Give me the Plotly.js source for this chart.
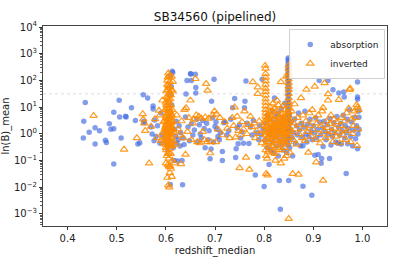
<!DOCTYPE html>
<html><head><meta charset="utf-8">
<script src="https://cdn.plot.ly/plotly-3.0.1.min.js"></script>
<style>html,body{margin:0;padding:0;background:#fff}#chart{width:399px;height:266px}</style>
</head><body><div id="chart"></div>
<script>
// [redshift_median, ln(B)_mean]
const absorption = [
[0.433,3.0],[0.436,15],[0.432,0.7],[0.444,1.15],[0.456,1.7],[0.456,0.42],[0.465,1.3],[0.477,0.58],[0.479,0.48],[0.485,2.4],[0.488,1.5],[0.494,1.55],[0.494,6.5],[0.494,0.075],[0.505,18],[0.506,4.3],[0.509,0.7],[0.518,4.6],[0.519,4.3],[0.530,9.5],[0.538,3.2],[0.543,0.42],[0.547,0.47],[0.554,29],[0.555,3.0],[0.556,2.6],[0.563,22],[0.570,1.8],[0.572,1.0],[0.574,11],[0.574,8.5],[0.576,0.55],[0.577,3.3],[0.580,0.8],[0.583,2.0],[0.590,6],[0.592,0.9],[0.588,0.45],
[0.598,0.7],[0.600,1.2],[0.602,0.4],[0.604,0.25],[0.606,2.5],[0.607,0.9],[0.609,150],[0.611,60],[0.613,220],[0.614,200],[0.610,30],[0.612,12],[0.608,5],[0.609,0.0126],[0.612,0.5],[0.615,0.3],[0.617,0.1],[0.618,1.5],[0.620,0.8],[0.621,3],[0.622,0.45],[0.624,0.097],[0.625,0.6],[0.627,2],[0.629,0.35],[0.630,1.1],[0.633,0.1],[0.634,0.0125],[0.635,0.7],[0.637,0.4],[0.640,4.3],[0.641,31],[0.643,100],[0.645,1.8],[0.648,0.55],[0.650,180],[0.651,175],[0.652,100],[0.652,2.4],[0.655,0.9],[0.658,1.4],[0.660,170],[0.661,54],[0.661,34],[0.663,3.5],[0.665,0.5],[0.668,2.2],[0.670,1.0],
[0.672,0.7],[0.675,3.2],[0.678,1.6],[0.680,0.3],[0.683,2.5],[0.686,0.6],[0.688,1.3],[0.690,0.117],[0.692,0.27],[0.693,16.6],[0.695,4],[0.697,0.5],[0.698,110],[0.700,1.9],[0.702,2.8],[0.704,1.5],[0.706,0.8],[0.709,0.6],[0.711,1.1],[0.715,0.1],[0.715,0.22],[0.718,2.6],[0.720,2.8],[0.724,0.9],[0.728,1.3],[0.732,3.5],[0.736,9.5],[0.740,21],[0.742,0.13],[0.743,0.28],[0.745,1.7],[0.747,0.43],[0.750,2.2],[0.752,0.7],[0.755,1.2],[0.758,0.45],[0.760,9.5],[0.761,16.5],[0.763,95],[0.765,2.5],[0.769,0.44],[0.772,1.8],[0.775,0.9],[0.778,3.2],[0.782,0.029],[0.785,1.1],[0.787,0.135],[0.789,0.6],[0.791,2],[0.794,0.9],[0.796,110],[0.798,1.5],
[0.800,0.0107],[0.802,0.6],[0.804,2.5],[0.806,0.3],[0.807,5],[0.808,1.2],[0.810,0.072],[0.811,0.9],[0.812,3.5],[0.813,0.25],[0.815,1.8],[0.816,0.5],[0.817,7],[0.818,1.1],[0.819,0.2],[0.820,2.8],[0.821,22],[0.822,0.7],[0.823,4.5],[0.824,1.5],[0.825,0.35],[0.826,2.2],[0.827,0.9],[0.828,6],[0.829,0.15],[0.830,1.3],[0.831,0.018],[0.832,3],[0.833,0.0015],[0.833,0.6],[0.834,1.9],[0.835,9],[0.836,0.4],[0.837,1.1],[0.838,4],[0.839,0.25],[0.840,2.5],[0.841,0.8],[0.842,14],[0.843,1.6],[0.844,0.5],[0.845,3.2],[0.846,0.2],[0.847,1.2],
[0.849,700],[0.849,600],[0.849,480],[0.849,380],[0.849,300],[0.849,240],[0.849,190],[0.849,150],[0.849,120],[0.849,95],[0.849,75],[0.849,58],[0.849,45],[0.849,35],[0.849,27],[0.849,20],[0.849,15],[0.849,11],[0.849,8],[0.849,6],[0.849,4.5],[0.849,3.3],[0.849,2.4],[0.849,1.7],[0.849,1.2],[0.849,0.85],[0.849,0.6],[0.849,0.4],[0.850,0.018],[0.851,5],[0.852,0.3],[0.853,1.5],
[0.855,2.8],[0.857,0.7],[0.858,0.15],[0.860,1.1],[0.862,3.6],[0.864,0.45],[0.866,2],[0.868,0.9],[0.870,6],[0.872,1.4],[0.874,0.35],[0.876,2.5],[0.878,0.75],[0.879,0.011],[0.879,0.36],[0.881,1.8],[0.883,7],[0.885,1],[0.887,0.5],[0.889,2.3],[0.891,0.8],[0.893,3.5],[0.895,1.3],[0.897,0.005],[0.898,0.6],[0.900,2],[0.902,1.1],[0.903,0.16],[0.905,4],[0.907,0.7],[0.909,1.5],[0.910,0.17],[0.912,100],[0.913,2.8],[0.915,0.9],[0.916,0.08],[0.917,0.12],[0.919,1.7],[0.920,0.34],[0.922,3],[0.924,1.2],[0.926,0.6],[0.928,2.2],[0.930,100],[0.931,1],[0.933,0.12],[0.934,3.8],[0.936,0.38],[0.937,1.5],[0.939,0.8],[0.940,45],[0.942,2.6],[0.944,1.1],[0.946,0.5],[0.948,4.5],[0.950,0.45],[0.951,1.8],[0.952,34],[0.954,0.9],[0.956,2.5],[0.957,0.42],[0.959,1.3],[0.961,5],[0.962,37],[0.963,24],[0.964,0.7],[0.965,2],[0.967,0.033],[0.968,1.1],[0.969,3.5],[0.970,0.43],[0.972,1.6],[0.974,8],[0.976,0.8],[0.978,2.8],[0.980,0.35],[0.982,1.4],[0.984,4.2],[0.986,0.65],[0.988,2],[0.990,87],[0.990,24],[0.990,20],[0.991,400],[0.991,310],[0.991,1],[0.992,7],[0.993,4.2],[0.993,1.5],[0.990,0.28]
];
const inverted = [
[0.453,4.8],[0.515,0.26],[0.541,0.7],[0.553,5.6],[0.554,3.5],[0.556,2.5],[0.558,1.3],[0.566,0.08],[0.570,1.9],[0.578,3.6],[0.583,0.7],[0.586,7.5],[0.588,5],[0.590,0.55],[0.593,18],[0.594,1.1],[0.595,2.8],[0.596,0.45],
[0.598,0.6],[0.598,3],[0.599,1.2],[0.599,8],[0.600,0.3],[0.600,2],[0.600,15],[0.601,0.8],[0.601,5],[0.601,40],[0.602,0.15],[0.602,1.5],[0.602,25],[0.603,0.5],[0.603,3.5],[0.603,11],[0.603,70],[0.604,0.07],[0.604,1],[0.604,6],[0.604,130],[0.605,0.4],[0.605,2.5],[0.605,18],[0.605,185],[0.606,0.2],[0.606,1.8],[0.606,9],[0.606,55],[0.607,0.01],[0.607,0.6],[0.607,4],[0.607,30],[0.607,150],[0.608,0.035],[0.608,1.3],[0.608,7],[0.608,90],[0.609,0.9],[0.609,3],[0.609,20],[0.610,0.05],[0.610,0.35],[0.610,2.2],[0.610,12],[0.611,1.1],[0.611,5],[0.611,45],[0.612,0.025],[0.612,0.7],[0.612,2.8],[0.612,140],[0.613,0.1],[0.613,1.6],[0.613,8],[0.614,90],[0.614,40],[0.614,0.5],[0.615,3],[0.616,1.2],[0.603,0.023],[0.605,0.012],[0.606,0.06],[0.608,0.45],[0.601,0.25],[0.604,0.18],[0.602,2.6],[0.606,4.5],[0.609,1.7],[0.611,0.8],[0.600,0.9],[0.603,1.6],[0.605,0.9],[0.607,2],[0.609,6],[0.599,1.8],[0.606,14],[0.604,22],[0.602,9],[0.608,35],[0.605,65],[0.603,100],[0.610,4],[0.612,1.4],[0.601,0.45],[0.606,0.12],[0.604,0.55],[0.608,0.28],[0.610,0.18],[0.600,0.08],[0.609,0.06],
[0.598,1.5],[0.599,0.4],[0.600,4],[0.601,2.2],[0.602,0.7],[0.603,6],[0.604,3],[0.605,1.3],[0.606,0.35],[0.607,9],[0.608,2.5],[0.609,0.5],[0.610,1.5],[0.611,2.6],[0.612,5],[0.613,0.35],[0.601,12],[0.604,45],[0.607,60],[0.610,28],
[0.618,0.08],[0.620,0.4],[0.622,5],[0.625,1.5],[0.628,0.9],[0.631,0.075],[0.632,3],[0.635,0.7],[0.638,8],[0.640,0.17],[0.641,9.3],[0.644,1.2],[0.647,4],[0.650,18],[0.652,0.6],[0.655,2.5],[0.657,3.5],[0.660,115],[0.662,5],[0.664,0.5],[0.667,4.5],[0.669,0.45],[0.672,3.8],[0.675,1.2],[0.678,0.6],[0.680,4.2],[0.682,75],[0.684,0.5],[0.685,42],[0.687,3.8],[0.690,0.19],[0.692,0.5],[0.695,5],[0.699,7],[0.702,0.5],[0.703,5.5],[0.706,1.5],[0.710,4],[0.715,0.9],[0.720,2.8],[0.725,1.6],[0.730,0.7],[0.735,4],[0.738,2],[0.740,10],[0.742,0.75],[0.745,4.5],[0.748,1.3],[0.750,0.053],[0.752,0.9],[0.755,2.8],[0.758,1.5],[0.760,7],[0.763,0.13],[0.765,1],[0.768,2.2],[0.770,0.046],[0.772,4.5],[0.775,1.8],[0.777,88],[0.780,2.5],[0.782,0.7],[0.785,1.3],[0.787,56],[0.787,32],[0.790,3],[0.792,1],[0.795,0.45],[0.797,2],
[0.802,360],[0.803,280],[0.803,180],[0.803,130],[0.803,95],[0.803,70],[0.803,50],[0.803,38],[0.803,28],[0.803,20],[0.803,15],[0.803,11],[0.803,8],[0.803,6],[0.803,4.5],[0.803,3.3],[0.803,2.5],[0.803,1.8],[0.803,1.3],[0.803,0.9],[0.803,0.6],[0.803,0.4],[0.803,0.25],[0.804,0.15],[0.804,0.032],[0.807,0.028],[0.806,0.12],[0.808,2],[0.809,0.5],[0.810,4],[0.811,1.2],[0.812,0.3],[0.813,7],[0.814,2.5],[0.815,0.8],[0.816,1.6],[0.817,0.2],[0.818,3.5],[0.819,1],[0.820,9],[0.821,0.6],[0.822,2],[0.823,0.1],[0.824,1.3],[0.825,5],[0.826,0.4],[0.827,2.8],[0.828,0.9],[0.829,12],[0.830,1.5],[0.831,0.25],[0.832,4],[0.833,0.7],[0.834,87],[0.834,0.08],[0.835,2.2],[0.836,1.1],[0.837,6],[0.838,0.45],[0.839,3],[0.840,1.4],[0.841,0.3],[0.842,8],[0.843,2],[0.844,0.9],[0.845,140],[0.845,0.15],[0.846,4.5],[0.847,1.2],
[0.805,1.1],[0.806,3.8],[0.807,0.7],[0.808,5.5],[0.809,1.6],[0.810,0.9],[0.811,2.8],[0.812,0.45],[0.813,1.4],[0.814,4.8],[0.815,0.6],[0.816,2.2],[0.817,1.1],[0.818,6.5],[0.819,0.35],[0.820,1.8],[0.821,3.2],[0.822,0.8],[0.823,1.2],[0.824,2.6],[0.825,0.55],[0.826,7.5],[0.827,1.5],[0.828,0.3],[0.829,2.4],[0.830,4.2],[0.831,0.9],[0.832,1.7],[0.833,3.4],[0.834,0.5],[0.835,1.3],[0.836,5],[0.837,0.65],[0.838,2],[0.839,1],[0.840,3.8],[0.841,0.55],[0.842,2.7],[0.843,1.1],[0.844,5.5],[0.845,0.4],[0.846,1.8],[0.847,3],[0.848,0.75],[0.812,10],[0.818,14],[0.826,18],[0.838,11],[0.808,0.22],[0.822,0.18],[0.836,0.25],[0.841,0.12],
[0.850,370],[0.850,280],[0.850,200],[0.850,150],[0.850,110],[0.850,80],[0.850,60],[0.850,45],[0.850,32],[0.850,22],[0.850,16],[0.850,12],[0.850,9],[0.850,6.5],[0.850,4.8],[0.850,3.5],[0.850,2.6],[0.850,1.9],[0.850,1.4],[0.850,1],[0.850,0.7],[0.850,0.5],[0.850,0.00066],[0.852,0.2],
[0.853,3],[0.855,1.2],[0.856,7],[0.858,0.032],[0.859,0.6],[0.860,2.5],[0.862,13],[0.864,1.5],[0.866,0.4],[0.868,4],[0.870,0.03],[0.871,1],[0.873,2.2],[0.875,22],[0.877,0.7],[0.879,5],[0.881,1.6],[0.883,0.55],[0.885,3],[0.886,46],[0.888,1.2],[0.890,0.2],[0.892,6],[0.894,2],[0.896,0.8],[0.898,8],[0.900,1.4],[0.902,3.5],[0.903,60],[0.905,0.6],[0.906,0.087],[0.908,2.5],[0.910,5],[0.912,1],[0.914,0.45],[0.916,2],[0.918,7],[0.920,9.5],[0.920,0.018],[0.922,1.3],[0.923,80],[0.925,0.7],[0.927,3],[0.929,1.7],[0.930,31],[0.930,18],[0.932,0.9],[0.934,2.4],[0.936,5],[0.938,1.2],[0.940,0.5],[0.942,3.5],[0.944,1.6],[0.946,0.8],[0.948,2.8],[0.950,1.1],[0.952,19],[0.954,0.45],[0.956,2],[0.958,4],[0.960,0.9],[0.962,1.5],[0.964,3],[0.966,0.6],[0.968,6],[0.970,1.3],[0.972,9],[0.974,45],[0.975,50],[0.976,0.5],[0.978,3.5],[0.980,1],[0.982,2],[0.984,7],[0.986,4],[0.988,12],[0.989,0.36],[0.990,10],[0.991,1.5],[0.992,8]
];
const seriesNames = ['absorption', 'inverted'];
const xTickVals = [0.4, 0.5, 0.6, 0.7, 0.8, 0.9, 1.0];
const xTickText = ['0.4', '0.5', '0.6', '0.7', '0.8', '0.9', '1.0'];
const yTickVals = [1e-3, 1e-2, 1e-1, 1, 10, 100, 1000, 10000];
const yTickText = ['10<sup>−3</sup>', '10<sup>−2</sup>', '10<sup>−1</sup>', '10<sup>0</sup>', '10<sup>1</sup>', '10<sup>2</sup>', '10<sup>3</sup>', '10<sup>4</sup>'];
const thresholdValue = 31.6;

const minorVals = [];
for (let e = -4; e <= 4; e++) for (let k = 2; k <= 9; k++) minorVals.push(k * Math.pow(10, e));

const font = "DejaVu Sans, sans-serif";
const traces = [
  {
    type: 'scatter', mode: 'markers', name: seriesNames[0],
    x: absorption.map(p => p[0]), y: absorption.map(p => p[1]),
    marker: {symbol: 'circle', size: 5.5, color: 'rgba(65,105,225,0.65)', line: {width: 0}}
  },
  {
    type: 'scatter', mode: 'markers', name: seriesNames[1],
    x: inverted.map(p => p[0]), y: inverted.map(p => p[1]),
    marker: {symbol: 'triangle-up-open', size: 6.5, color: 'rgba(255,140,0,0.85)', line: {width: 1.2}}
  }
];
const layout = {
  width: 399, height: 266,
  margin: {l: 43, r: 12, t: 26, b: 40, pad: 0},
  paper_bgcolor: '#fff', plot_bgcolor: '#fff',
  font: {family: font, size: 10, color: '#222'},
  title: {text: 'SB34560 (pipelined)', font: {family: font, size: 12, color: '#111'}, x: 0.5, xanchor: 'center', y: 0.935, yanchor: 'middle', xref: 'paper', yref: 'container'},
  showlegend: true,
  legend: {x: 0.995, y: 0.985, xanchor: 'right', yanchor: 'top', bgcolor: 'rgba(255,255,255,0.85)', bordercolor: '#d0d0d0', borderwidth: 1, font: {family: font, size: 9, color: '#222'}, tracegroupgap: 0, itemwidth: 30},
  xaxis: {
    range: [0.35, 1.05], tickmode: 'array', tickvals: xTickVals, ticktext: xTickText,
    ticks: 'outside', ticklen: 3, tickwidth: 1, tickcolor: '#333',
    showgrid: false, zeroline: false, showline: true, mirror: true, linecolor: '#444', linewidth: 1,
    tickfont: {family: font, size: 10, color: '#222'},
    title: {text: 'redshift_median', font: {family: font, size: 10, color: '#222'}, standoff: 3}
  },
  yaxis: {
    type: 'log', range: [-3.45, 4.04], tickmode: 'array', tickvals: yTickVals, ticktext: yTickText,
    ticks: 'outside', ticklen: 3, tickwidth: 1, tickcolor: '#333',
    minor: {tickmode: 'array', tickvals: minorVals, ticks: 'outside', ticklen: 1.8, tickwidth: 0.8, tickcolor: '#333', showgrid: false},
    showgrid: false, zeroline: false, showline: true, mirror: true, linecolor: '#444', linewidth: 1,
    tickfont: {family: font, size: 10, color: '#222'},
    title: {text: 'ln(B)_mean', font: {family: font, size: 10, color: '#222'}, standoff: 2}
  },
  shapes: [{type: 'line', xref: 'paper', x0: 0, x1: 1, yref: 'y', y0: thresholdValue, y1: thresholdValue, line: {color: '#d4d4d4', width: 0.8, dash: 'dot'}, layer: 'below'}]
};
Plotly.newPlot('chart', traces, layout, {staticPlot: true, displayModeBar: false});
</script>
</body></html>
